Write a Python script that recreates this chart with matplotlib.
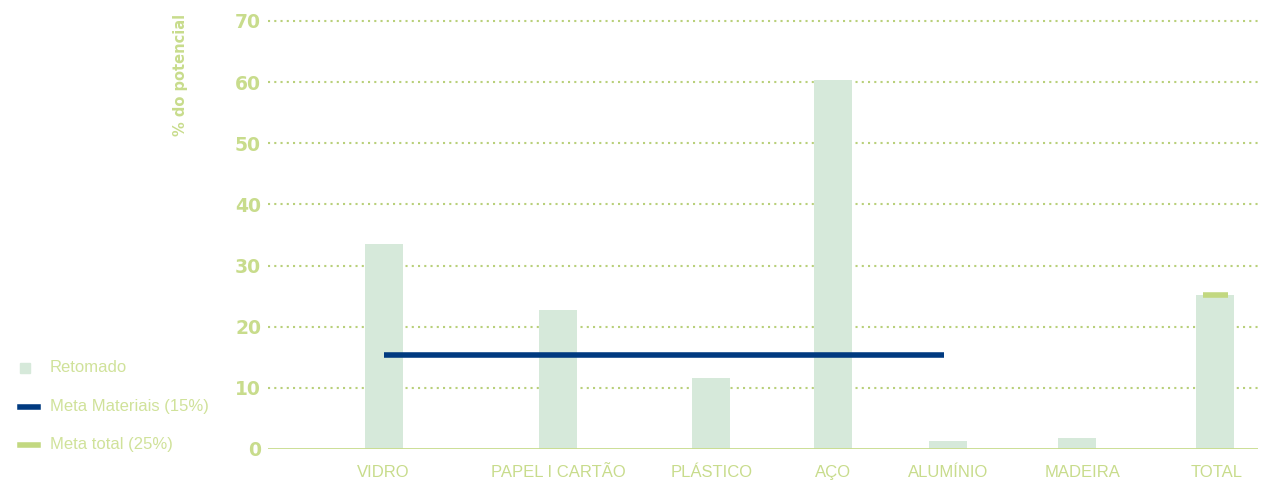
import matplotlib.pyplot as plt
from matplotlib.patches import Rectangle
from matplotlib.lines import Line2D

categories = ["VIDRO", "PAPEL I CARTÃO", "PLÁSTICO", "AÇO", "ALUMÍNIO", "MADEIRA", "TOTAL"]
retomado = [33.5, 22.7, 11.6, 60.4, 1.3, 1.8, 25.2]
meta_materiais = 15.4
meta_total = 25.2
yticks = [0, 10, 20, 30, 40, 50, 60, 70]
legend_labels = ["Retomado", "Meta Materiais (15%)", "Meta total (25%)"]

# uneven category spacing as in the original layout
xpos = [384, 558, 711, 833, 948, 1077, 1215]
label_x = [383, 558, 712, 833, 948, 1083, 1217]

bar_color = "#d6e9da"
text_green = "#c8dc8c"
blue = "#003a80"
lime = "#c2d880"
font = "Liberation Sans"

W, H = 1272, 483
fig = plt.figure(figsize=(W / 100, H / 100), dpi=100)
ax = fig.add_axes([268 / W, 1 - 449 / H, 990 / W, 428 / H])

ax.bar(xpos, retomado, width=38, color=bar_color, zorder=2)
ax.plot([xpos[0], xpos[4] - 4], [meta_materiais] * 2, color=blue, lw=4, zorder=3,
        solid_capstyle="butt")
ax.plot([xpos[-1] - 12, xpos[-1] + 13], [meta_total] * 2, color=lime, lw=4, zorder=3,
        solid_capstyle="butt")

ax.set_xlim(268, 1258)
ax.set_ylim(0, 70)
ax.set_yticks(yticks)
for y in yticks[1:]:
    ax.axhline(y, color="#b9d07a", lw=1.5, ls=(0, (1, 2)), zorder=1, clip_on=False)
ax.axhline(0, color=text_green, lw=2, zorder=4)

for s in ax.spines.values():
    s.set_visible(False)
ax.tick_params(axis="y", length=0, pad=5, labelcolor=text_green, labelsize=13.5)
for t in ax.get_yticklabels():
    t.set_fontweight("bold")
ax.set_xticks([])
for x, lab in zip(label_x, categories):
    ax.text(x, -3.9, lab, ha="center", va="center", color=text_green, fontsize=12,
            family=font)

fig.text(180 / W, 1 - 14 / H, "% do potencial", rotation=90, ha="center", va="top",
         color=text_green, fontsize=10.5, fontweight="bold")

# legend drawn by hand at the left edge
leg_y = [368, 407, 445]
fig.add_artist(Rectangle((20 / W, 1 - 373 / H), 10 / W, 10 / H, color=bar_color,
                         transform=fig.transFigure))
fig.add_artist(Line2D([20 / W, 38 / W], [1 - leg_y[1] / H] * 2, color=blue, lw=4,
                      transform=fig.transFigure))
fig.add_artist(Line2D([20 / W, 38 / W], [1 - leg_y[2] / H] * 2, color=lime, lw=4,
                      transform=fig.transFigure))
for y, lab in zip(leg_y, legend_labels):
    fig.text(50 / W, 1 - y / H, lab, ha="left", va="center", color="#d0e29a",
             fontsize=12, family=font)

fig.savefig("out.png", dpi=100)
